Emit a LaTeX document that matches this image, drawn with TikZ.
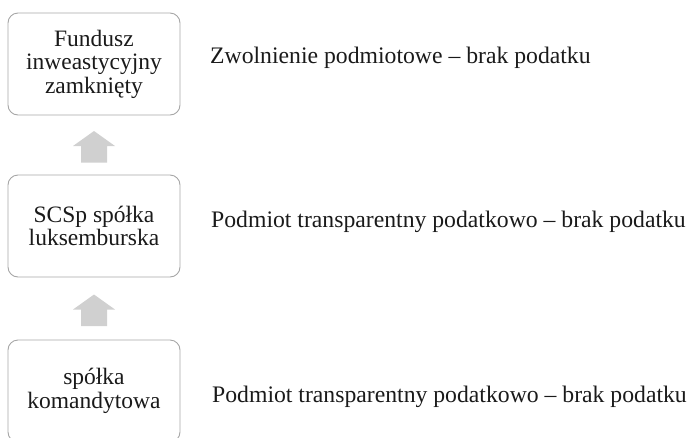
\documentclass[tikz,border=0pt]{standalone}
\usepackage{fontspec}
\setmainfont{Liberation Serif}
\usepackage{tikz}
\usetikzlibrary{positioning,calc}
\definecolor{boxgray}{HTML}{A6A6A6}
\definecolor{arrowgray}{HTML}{D0D0D0}
\definecolor{inkblack}{HTML}{1A1A1A}
\tikzset{
  stage/.style={draw=boxgray, line width=0.9pt, rounded corners=10pt, align=center,
    minimum width=172pt, minimum height=102pt, inner sep=0pt, text=inkblack,
    font=\fontsize{23.5}{23.5}\selectfont},
  taxnote/.style={anchor=base west, inner sep=0pt, text=inkblack,
    font=\fontsize{23.7}{24}\selectfont}
}
\begin{document}
\begin{tikzpicture}[x=1pt, y=-1pt]
\useasboundingbox (0,0) rectangle (689,437);
% boxes
\node[stage] (fund) at (94,64) {Fundusz\\inweastycyjny\\zamknięty};
\node[stage] (scsp) at (94,226) {SCSp spółka\\luksemburska};
\node[stage] (kom) at (94,391) {spółka\\komandytowa};
% notes
\node[taxnote] (fundnote) at (210,63) {Zwolnienie podmiotowe – brak podatku};
\node[taxnote] (scspnote) at (211,227) {Podmiot transparentny podatkowo – brak podatku};
\node[taxnote] (komnote) at (212,402) {Podmiot transparentny podatkowo – brak podatku};
% block arrows
\foreach \lo/\hi in {scsp/fund, kom/scsp}
  \fill[arrowgray] ($(\lo.north)!0.5!(\hi.south)$) ++(-13,17.5) -- ++(0,-16.5) -- ++(-8,0)
    -- ++(21,-15) -- ++(21,15) -- ++(-8,0) -- ++(0,16.5) -- cycle;
\end{tikzpicture}
\end{document}
